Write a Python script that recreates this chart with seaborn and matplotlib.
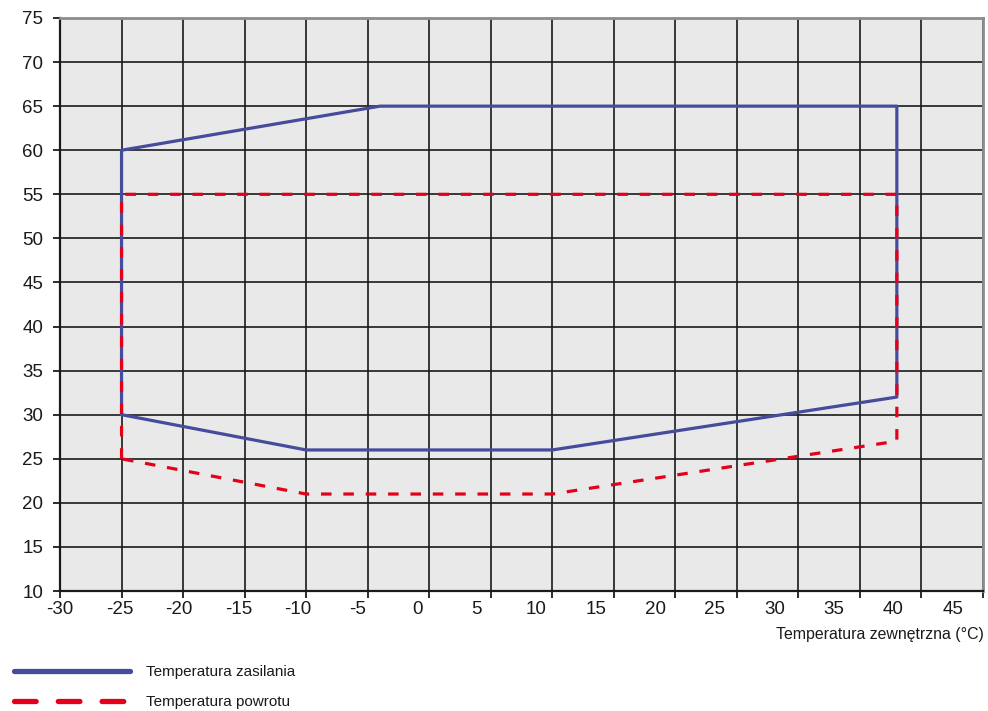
import matplotlib
matplotlib.use("Agg")
import matplotlib.pyplot as plt
import matplotlib.transforms as mtransforms
import seaborn as sns
import pandas as pd
from matplotlib.lines import Line2D

# Data (outside temperature °C vs. water temperature °C)
supply_x = [-25, -25, -4, 38, 38, 10, -10, -25]
supply_y = [30, 60, 65, 65, 32, 26, 26, 30]
return_x = [-25, -25, 38, 38, 10, -10, -25]
return_y = [25, 55, 55, 27, 21, 21, 25]
x_ticks = list(range(-30, 50, 5))
y_ticks = list(range(10, 80, 5))
x_label = "Temperatura zewnętrzna (°C)"
legend_labels = ["Temperatura zasilania", "Temperatura powrotu"]

blue = "#454c9c"
red = "#e3001b"

sns.set_theme(style="white")
plt.rcParams['font.family'] = ['Liberation Sans', 'DejaVu Sans']
plt.rcParams['axes.unicode_minus'] = False

fig = plt.figure(figsize=(9.88, 7.11), dpi=100)
ax = fig.add_axes([60/988, 1 - 591/711, (983-60)/988, (591-18)/711])
ax.set_facecolor("#e9e9e9")

df_s = pd.DataFrame({"x": supply_x, "y": supply_y})
df_r = pd.DataFrame({"x": return_x, "y": return_y})
sns.lineplot(data=df_s, x="x", y="y", sort=False, estimator=None, ax=ax,
             color=blue, lw=2.3, zorder=3)
sns.lineplot(data=df_r, x="x", y="y", sort=False, estimator=None, ax=ax,
             color=red, lw=2.3, zorder=4)
ax.lines[-1].set_dashes((3.3, 3.7))

ax.set_xlim(-30, 45)
ax.set_ylim(10, 75)
ax.set_xticks(x_ticks)
ax.set_xticklabels([str(v) for v in x_ticks])
ax.set_yticks(y_ticks)
ax.set_yticklabels([str(v) for v in y_ticks])
ax.grid(True, color="#1a1a1a", lw=1.2, zorder=1)
ax.set_axisbelow(True)

for s in ["left", "bottom"]:
    ax.spines[s].set_color("#1a1a1a")
    ax.spines[s].set_linewidth(1.6)
for s in ["top", "right"]:
    ax.spines[s].set_color("#8c8c8c")
    ax.spines[s].set_linewidth(2.0)

ax.tick_params(axis="both", direction="out", length=5, width=1.3, color="#1a1a1a",
               labelsize=13.5, labelcolor="#1a1a1a", left=True, bottom=True)
ax.tick_params(axis="y", pad=7)
ax.tick_params(axis="x", pad=2)
ax.set_xlabel("")
ax.set_ylabel("")

# x tick labels in the reference drift slightly left of their grid lines
for i, lab in enumerate(ax.get_xticklabels()):
    off = mtransforms.ScaledTranslation(-2.0 * i / 100, 0, fig.dpi_scale_trans)
    lab.set_transform(lab.get_transform() + off)

fig.text(984/988, 1 - 635/711, x_label, ha="right", va="center",
         fontsize=11.4, color="#1a1a1a")

handles = [Line2D([], [], color=blue, lw=3.8, solid_capstyle="round"),
           Line2D([], [], color=red, lw=3.8, dashes=(4.1, 4.2), dash_capstyle="round")]
fig.legend(handles, legend_labels, loc="upper left",
           bbox_to_anchor=(5/988, 1 - 656/711), frameon=False,
           fontsize=11, handlelength=7.6, handletextpad=1.0,
           labelspacing=1.05, labelcolor="#1a1a1a", borderaxespad=0.2)

fig.savefig("out.png", dpi=100)
